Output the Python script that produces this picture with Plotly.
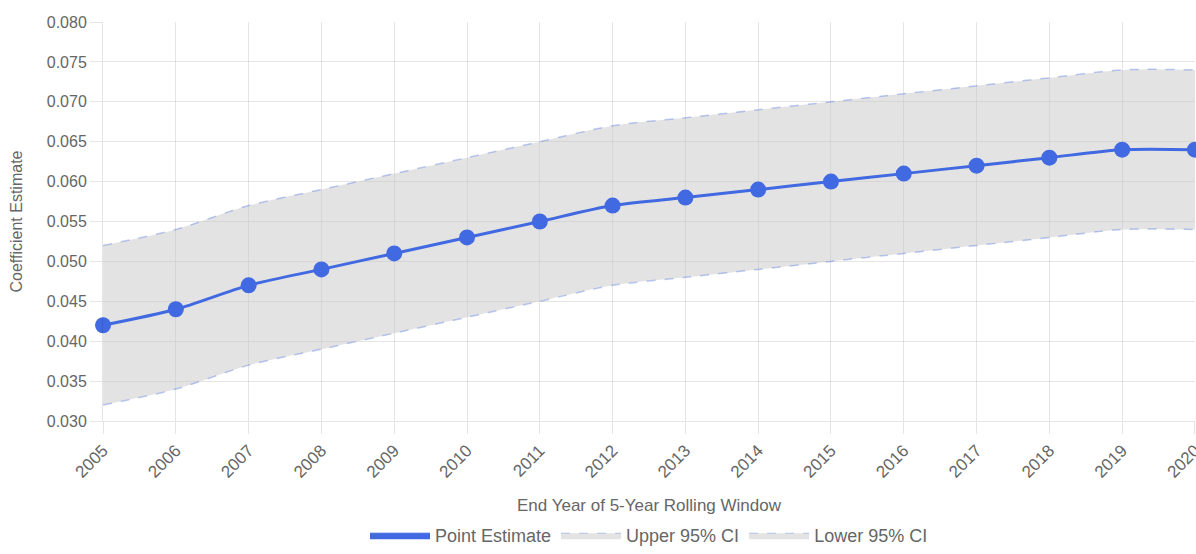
import plotly.graph_objects as go

years = [2005, 2006, 2007, 2008, 2009, 2010, 2011, 2012, 2013, 2014, 2015, 2016, 2017, 2018, 2019, 2020]
point_estimate = [0.042, 0.044, 0.047, 0.049, 0.051, 0.053, 0.055, 0.057, 0.058, 0.059, 0.060, 0.061, 0.062, 0.063, 0.064, 0.064]
upper_ci = [0.052, 0.054, 0.057, 0.059, 0.061, 0.063, 0.065, 0.067, 0.068, 0.069, 0.070, 0.071, 0.072, 0.073, 0.074, 0.074]
lower_ci = [0.032, 0.034, 0.037, 0.039, 0.041, 0.043, 0.045, 0.047, 0.048, 0.049, 0.050, 0.051, 0.052, 0.053, 0.054, 0.054]
y_ticks = [0.030, 0.035, 0.040, 0.045, 0.050, 0.055, 0.060, 0.065, 0.070, 0.075, 0.080]

BLUE = "#4169E1"
CI_LINE = "rgba(65,105,225,0.35)"
CI_FILL = "rgba(200,200,200,0.5)"
TXT = "#666666"
GRID = "rgba(0,0,0,0.1)"
FONT = "Liberation Sans, Arial, Helvetica, sans-serif"

fig = go.Figure()

fig.add_trace(go.Scatter(
    x=years, y=upper_ci, mode="lines", name="Upper 95% CI",
    line=dict(color=CI_LINE, width=1.5, dash="dash", shape="spline", smoothing=0.8),
    showlegend=False, hoverinfo="skip"))
fig.add_trace(go.Scatter(
    x=years, y=lower_ci, mode="lines", name="Lower 95% CI",
    line=dict(color=CI_LINE, width=1.5, dash="dash", shape="spline", smoothing=0.8),
    fill="tonexty", fillcolor=CI_FILL, showlegend=False, hoverinfo="skip"))
fig.add_trace(go.Scatter(
    x=years, y=point_estimate, mode="lines+markers", name="Point Estimate",
    line=dict(color=BLUE, width=3, shape="spline", smoothing=0.8),
    marker=dict(color=BLUE, size=16), showlegend=False, cliponaxis=False))

# legend entries
fig.add_trace(go.Scatter(x=[None], y=[None], mode="lines", name="Point Estimate",
                         fill="toself", fillcolor=BLUE, line=dict(color=BLUE, width=1)))
fig.add_trace(go.Scatter(x=[None], y=[None], mode="lines", name="Upper 95% CI",
                         fill="toself", fillcolor=CI_FILL, line=dict(color=CI_LINE, width=1, dash="dash")))
fig.add_trace(go.Scatter(x=[None], y=[None], mode="lines", name="Lower 95% CI",
                         fill="toself", fillcolor=CI_FILL, line=dict(color=CI_LINE, width=1, dash="dash")))

fig.update_layout(
    width=1196, height=554,
    margin=dict(l=103, r=1, t=22, b=133),
    paper_bgcolor="white", plot_bgcolor="white",
    font=dict(family=FONT, color=TXT, size=16),
    legend=dict(orientation="h", x=0.5, xanchor="center", yref="container", y=-0.03, yanchor="bottom",
                font=dict(size=18, color=TXT), itemwidth=60, traceorder="normal"),
    xaxis=dict(
        range=[2004.9995, 2020.0005], tickmode="array", tickvals=years, ticktext=[str(y) for y in years],
        tickangle=-45, showgrid=True, gridcolor=GRID, gridwidth=1, automargin=False,
        ticklabeloverflow="allow",
        ticks="outside", ticklen=12, tickcolor=GRID, showline=True, linecolor=GRID,
        zeroline=False, tickfont=dict(size=17, color=TXT),
        title=dict(text="End Year of 5-Year Rolling Window", font=dict(size=17, color=TXT), standoff=18),
    ),
    yaxis=dict(
        range=[0.030, 0.080], tickmode="array", tickvals=y_ticks,
        ticktext=[f"{v:.3f}" for v in y_ticks], automargin=False,
        showgrid=True, gridcolor=GRID, gridwidth=1,
        ticks="outside", ticklen=12, tickcolor=GRID, showline=True, linecolor=GRID,
        zeroline=False, tickfont=dict(size=16, color=TXT),
        title=dict(text="Coefficient Estimate", font=dict(size=16, color=TXT), standoff=20),
    ),
)

fig.write_html("out.html")
